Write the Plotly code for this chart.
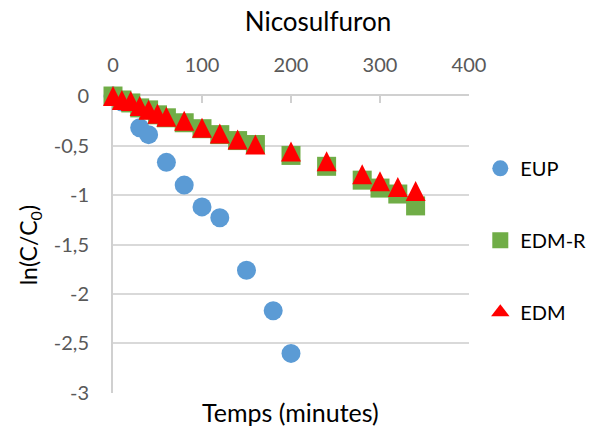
import plotly.graph_objects as go

# ---- data ----
t_eup = [0, 10, 30, 40, 60, 80, 100, 120, 150, 180, 200]
eup = [0, -0.06, -0.32, -0.39, -0.67, -0.90, -1.12, -1.23, -1.76, -2.17, -2.60]

t_edm = [0, 10, 20, 30, 40, 50, 60, 80, 100, 120, 140, 160, 200, 240, 280, 300, 320, 340]
edm_r = [0, -0.04, -0.07, -0.12, -0.14, -0.19, -0.22, -0.27, -0.33, -0.39, -0.45, -0.49,
         -0.60, -0.71, -0.85, -0.93, -0.99, -1.11]
edm = [0, -0.04, -0.05, -0.10, -0.14, -0.18, -0.21, -0.25, -0.32, -0.38, -0.44, -0.49,
       -0.56, -0.66, -0.79, -0.86, -0.92, -0.96]

x_ticks = [0, 100, 200, 300, 400]
x_tick_text = ["0", "100", "200", "300", "400"]
y_ticks = [0, -0.5, -1, -1.5, -2, -2.5, -3]
y_tick_text = ["0", "-0,5", "-1", "-1,5", "-2", "-2,5", "-3"]

BLUE = "#5B9BD5"
GREEN = "#70AD47"
RED = "#FF0000"
FONT = "Lato"

W, H = 592, 434
TRI = 20                     # triangle marker size (px)
L, R, B = 112.7, 123.3, 41.3
PLOT_TOP = 96.3              # pixel row of y = 0
T = PLOT_TOP - TRI / 2       # paper extends half a triangle higher
paper_h = H - T - B
plot_h = H - PLOT_TOP - B
d1 = plot_h / paper_h
off = (TRI / 2) / paper_h    # arrow-up apex sits on the point: lift its axis by half a marker


def py(pix):
    """pixel row -> paper fraction"""
    return (H - B - pix) / paper_h


def px(pix):
    return (pix - L) / (W - L - R)


fig = go.Figure()
fig.add_trace(go.Scatter(x=t_eup, y=eup, mode="markers", name="EUP", legendgroup="a",
                         marker=dict(symbol="circle", size=19, color=BLUE), cliponaxis=False))
fig.add_trace(go.Scatter(x=t_edm, y=edm_r, mode="markers", name="EDM-R", legendgroup="b",
                         marker=dict(symbol="square", size=19, color=GREEN), cliponaxis=False))
fig.add_trace(go.Scatter(x=[None], y=[None], mode="markers", name="EDM", legendgroup="c",
                         marker=dict(symbol="triangle-up", size=16, color=RED)))
fig.add_trace(go.Scatter(x=t_edm, y=edm, mode="markers", name="EDM", legendgroup="c",
                         showlegend=False, xaxis="x", yaxis="y2",
                         marker=dict(symbol="arrow-up", size=TRI, color=RED), cliponaxis=False))

axis_col = "#D0D0D0"
grid_col = "#D9D9D9"
tick_font = dict(family=FONT, size=20, color="#595959")

fig.update_layout(
    width=W, height=H,
    margin=dict(l=L, r=R, t=T, b=B, pad=0, autoexpand=False),
    paper_bgcolor="white", plot_bgcolor="rgba(0,0,0,0)",
    font=dict(family=FONT, color="black"),
    title=dict(text="Nicosulfuron", x=318 / W, xref="container", xanchor="center",
               y=1 - 22 / H, yref="container", yanchor="middle",
               font=dict(family=FONT, size=26, color="black")),
    xaxis=dict(range=[0, 400], side="top", anchor="y", tickvals=x_ticks, ticktext=x_tick_text,
               showline=True, linecolor=axis_col, linewidth=2,
               ticks="inside", ticklen=7, tickwidth=2, tickcolor=axis_col,
               showgrid=False, zeroline=False, tickfont=tick_font, automargin=False,
               ticklabelstandoff=14, layer="below traces"),
    yaxis=dict(range=[-3, 0], domain=[0, d1], anchor="x", tickvals=y_ticks,
               ticktext=y_tick_text,
               showline=True, linecolor=axis_col, linewidth=2, ticks="",
               showgrid=True, gridcolor=grid_col, gridwidth=2, zeroline=False,
               tickfont=tick_font, ticklabelstandoff=18, automargin=False,
               layer="below traces"),
    yaxis2=dict(range=[-3, 0], domain=[off, d1 + off], anchor="x",
                visible=False, showgrid=False, zeroline=False, automargin=False),
    legend=dict(x=px(480), xanchor="left", y=py(149), yanchor="top",
                font=dict(family=FONT, size=20, color="black"),
                tracegroupgap=43, bgcolor="rgba(0,0,0,0)"),
    showlegend=True,
    annotations=[
        dict(text="Temps (minutes)", xref="paper", yref="paper", x=px(290.5), y=py(412),
             xanchor="center", yanchor="middle", showarrow=False,
             font=dict(family=FONT, size=25, color="black")),
        dict(text="ln(C/C<sub>0</sub>)", xref="paper", yref="paper", x=px(29), y=py(245),
             xanchor="center", yanchor="middle", showarrow=False, textangle=-90,
             font=dict(family=FONT, size=23, color="black")),
    ],
)

fig.write_html("out.html", config={"displayModeBar": False},
               post_script="document.body.style.margin='0';")
